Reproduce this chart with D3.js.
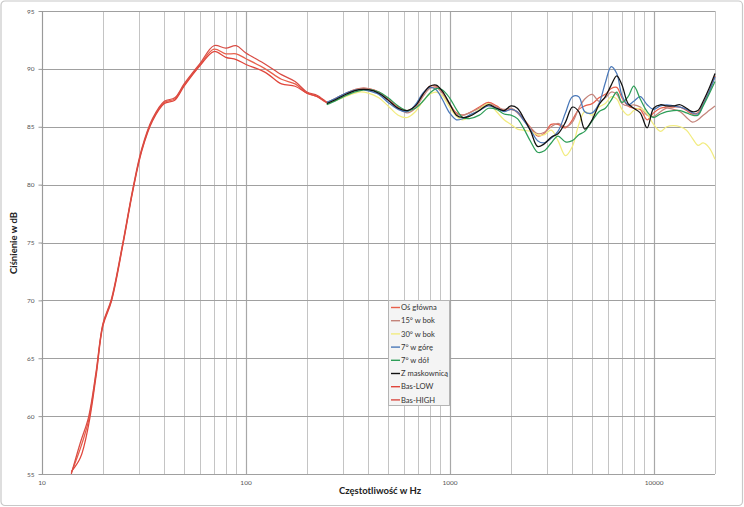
<!DOCTYPE html>
<html><head><meta charset="utf-8">
<script src="https://cdn.jsdelivr.net/npm/d3@7"></script>
<style>body{margin:0;background:#fff}svg{display:block}</style>
</head><body>
<svg id="c" width="744" height="507"></svg>
<script>
// ---- data ----
const yTicks = [55, 60, 65, 70, 75, 80, 85, 90, 95];
const xTickLabels = [10, 100, 1000, 10000];
const gridFreqs = [10,20,30,40,50,60,70,80,90,100,200,300,400,500,600,700,800,900,1000,2000,3000,4000,5000,6000,7000,8000,9000,10000,20000];

const bassFreqs = [14, 15.5, 17, 18.5, 20, 22, 25, 28, 31, 35, 40, 45, 50, 60, 70, 80, 90, 100, 125, 150, 175, 200, 225, 250];
const basHigh   = [55.0, 57.7, 59.9, 63.8, 68.0, 70.1, 74.9, 79.6, 83.1, 85.7, 87.2, 87.5, 88.7, 90.5, 92.0, 91.8, 92.0, 91.4, 90.4, 89.5, 88.9, 88.0, 87.7, 87.1];
const osBass    = [55.1, 57.2, 59.6, 63.6, 67.9, 70.0, 74.8, 79.5, 83.0, 85.6, 87.1, 87.4, 88.6, 90.4, 91.7, 91.3, 91.3, 90.9, 90.0, 89.1, 88.7, 87.9, 87.6, 87.1];
const basLow    = [55.2, 56.4, 59.2, 63.4, 67.8, 69.9, 74.7, 79.4, 82.9, 85.5, 87.0, 87.3, 88.5, 90.3, 91.5, 91.0, 90.8, 90.4, 89.7, 88.7, 88.5, 87.9, 87.6, 87.1];

const midFreqs = [250, 280, 320, 360, 400, 450, 500, 560, 620, 680, 740, 800, 860, 920, 1000, 1080, 1160, 1250, 1400, 1550, 1700, 1850, 2000, 2150, 2300, 2500, 2700, 2900, 3150, 3400, 3700, 4000, 4300, 4600, 5000, 5400, 5800, 6200, 6600, 7000, 7500, 8000, 8600, 9300, 10000, 10800, 11600, 12500, 13500, 14500, 15500, 16500, 17500, 18700, 20000];
const osMid   = [87.1,87.5,88.0,88.3,88.3,88.0,87.4,86.7,86.4,86.8,87.8,88.5,88.5,88.0,87.0,86.2,86.0,86.2,86.7,87.1,86.8,86.4,86.5,86.3,85.7,84.9,84.2,84.4,85.2,85.2,84.9,85.6,86.5,86.8,87.0,87.5,87.8,88.3,88.4,87.5,86.8,86.6,86.5,85.6,86.2,86.6,86.7,86.7,86.7,86.4,86.1,86.2,87.0,88.0,89.4];
const s15     = [87.1,87.5,88.0,88.3,88.3,88.0,87.3,86.6,86.2,86.6,87.6,88.3,88.4,87.9,86.9,86.1,86.0,86.2,86.6,87.0,86.7,86.5,86.6,86.2,85.6,84.9,84.4,84.5,85.0,85.3,85.0,85.4,86.6,87.4,87.8,87.2,87.5,88.0,87.8,87.0,86.8,86.9,86.7,86.0,85.9,86.3,86.6,86.5,86.3,85.8,85.4,85.6,86.0,86.4,86.8];
const s30     = [87.0,87.3,87.7,88.0,87.9,87.5,86.8,86.0,85.8,86.3,87.2,87.8,88.0,87.7,86.7,85.9,85.6,85.9,86.5,87.0,86.3,85.6,85.2,84.8,84.7,84.6,84.3,84.3,84.7,83.8,82.5,83.3,85.2,86.3,86.0,86.7,87.0,87.6,87.4,86.5,86.0,86.4,86.6,86.1,85.2,84.6,85.0,85.1,85.0,84.7,84.0,83.4,83.6,83.2,82.2];
const sUp     = [87.1,87.5,88.0,88.2,88.1,87.8,87.1,86.5,86.3,86.9,87.9,88.4,88.2,87.4,86.2,85.6,85.7,86.0,86.4,86.8,86.6,86.3,86.5,86.3,85.6,84.7,83.8,83.6,84.0,84.6,86.2,87.6,87.6,86.3,86.2,87.0,88.8,90.2,89.6,87.7,86.9,87.2,87.6,86.9,86.5,86.8,86.9,86.8,86.7,86.5,86.2,86.1,86.9,88.0,89.3];
const sDown   = [86.9,87.3,87.8,88.1,88.2,88.0,87.5,86.8,86.4,86.6,87.2,87.9,88.3,88.2,87.5,86.5,85.8,85.7,86.0,86.6,86.5,86.1,86.0,85.7,84.9,83.7,82.8,82.9,83.6,84.2,83.7,83.8,84.3,84.6,85.5,86.3,86.6,87.3,88.0,87.1,87.6,88.5,87.4,86.3,85.8,86.1,86.3,86.4,86.4,86.2,86.0,86.0,86.8,87.8,88.9];
const sMask   = [87.0,87.4,87.9,88.2,88.2,87.9,87.3,86.6,86.4,86.8,87.8,88.5,88.6,88.1,87.0,86.0,85.8,85.9,86.4,86.9,86.6,86.4,86.8,86.6,85.8,84.6,83.3,83.5,84.1,84.4,85.4,86.7,86.3,84.8,85.6,86.9,87.6,88.6,89.4,88.6,87.0,86.6,86.2,84.9,86.6,86.9,86.8,86.8,86.9,86.6,86.3,86.4,87.2,88.3,89.6];

const legendNames = ["Oś główna", "15° w bok", "30° w bok", "7° w górę", "7° w dół", "Z maskownicą", "Bas-LOW", "Bas-HIGH"];
const colors = ["#e8604c", "#c4847b", "#f2ec80", "#4a78b8", "#2e9e58", "#111111", "#e0463c", "#d94c44"];

// ---- chart ----
const svg = d3.select("#c");
const W = 744, H = 507;
const m = {l: 41.5, r: 744 - 715, t: 11, b: 507 - 474};
const x = d3.scaleLog().domain([10, 20000]).range([m.l, W - m.r]);
const y = d3.scaleLinear().domain([55, 95]).range([H - m.b, m.t]);

svg.append("rect").attr("x", 1).attr("y", 1).attr("width", W - 2.5).attr("height", H - 2.5)
  .attr("rx", 4).attr("fill", "#fff").attr("stroke", "#c8c8c8").attr("stroke-width", 1.2);

const g = svg.append("g");
g.selectAll("line.vg").data(gridFreqs).join("line")
  .attr("x1", d => Math.round(x(d)) + 0.5).attr("x2", d => Math.round(x(d)) + 0.5)
  .attr("y1", y(95)).attr("y2", y(55))
  .attr("stroke", d => (Math.log10(d) % 1 === 0) ? "#a8a8a8" : "#c4c4c4")
  .attr("stroke-width", d => (Math.log10(d) % 1 === 0) ? 1.2 : 1);
g.selectAll("line.hg").data(yTicks).join("line")
  .attr("x1", x(10)).attr("x2", x(20000))
  .attr("y1", d => Math.round(y(d)) + 0.5).attr("y2", d => Math.round(y(d)) + 0.5)
  .attr("stroke", "#a0a0a0").attr("stroke-width", 1);
g.append("line").attr("x1", Math.round(x(10)) + 0.5).attr("x2", Math.round(x(10)) + 0.5)
  .attr("y1", y(95)).attr("y2", y(55)).attr("stroke", "#9a9a9a");

const yAxis = d3.axisLeft(y).tickValues(yTicks).tickSize(4).tickFormat(d3.format("d"));
const ya = svg.append("g").attr("transform", `translate(${Math.round(x(10)) + 0.5},0)`).call(yAxis);
ya.select(".domain").remove();
ya.selectAll("line").attr("stroke", "#9a9a9a");
ya.selectAll("text").attr("font-family", "Lato, 'Open Sans', sans-serif").attr("font-size", 6.5).attr("fill", "#555").attr("dx", -1);

const xAxis = d3.axisBottom(x).tickValues(xTickLabels).tickSize(0).tickFormat(d3.format("d"));
const xa = svg.append("g").attr("transform", `translate(0,${y(55)})`).call(xAxis);
xa.select(".domain").remove();
xa.selectAll("text").attr("font-family", "Lato, 'Open Sans', sans-serif").attr("font-size", 6.5).attr("fill", "#555").attr("dy", "1.25em");

svg.append("text").attr("x", 380).attr("y", 494).attr("text-anchor", "middle")
  .attr("font-family", "Lato, 'Open Sans', sans-serif").attr("font-weight", "bold").attr("font-size", 9.5)
  .attr("fill", "#222").text("Częstotliwość w Hz");
svg.append("text").attr("transform", "translate(17,243) rotate(-90)").attr("text-anchor", "middle")
  .attr("font-family", "Lato, 'Open Sans', sans-serif").attr("font-weight", "bold").attr("font-size", 9.5)
  .attr("fill", "#222").text("Ciśnienie w dB");

const line = d3.line().x(d => x(d[0])).y(d => y(d[1])).curve(d3.curveCatmullRom.alpha(0.5));
const zip = (f, v) => f.map((d, i) => [d, v[i]]);
const osFull = zip(bassFreqs, osBass).concat(zip(midFreqs, osMid).slice(1));
const seriesData = [
  {i: 0, pts: osFull},
  {i: 1, pts: zip(midFreqs, s15)},
  {i: 2, pts: zip(midFreqs, s30)},
  {i: 3, pts: zip(midFreqs, sUp)},
  {i: 4, pts: zip(midFreqs, sDown)},
  {i: 6, pts: zip(bassFreqs, basLow)},
  {i: 7, pts: zip(bassFreqs, basHigh)},
  {i: 5, pts: zip(midFreqs, sMask)}
];
svg.append("clipPath").attr("id", "pc").append("rect")
  .attr("x", x(10)).attr("y", y(95) - 2).attr("width", x(20000) - x(10) + 1).attr("height", y(55) - y(95) + 2);
svg.append("g").attr("clip-path", "url(#pc)").selectAll("path").data(seriesData).join("path")
  .attr("d", d => line(d.pts)).attr("fill", "none")
  .attr("stroke", d => colors[d.i]).attr("stroke-width", 1.25);

const lg = svg.append("g").attr("transform", "translate(388,300)");
lg.append("rect").attr("x", 0.5).attr("y", 0.5).attr("width", 61).attr("height", 105)
  .attr("fill", "#f4f4f4").attr("stroke", "#b4b4b4");
legendNames.forEach((n, i) => {
  const yy = 7.5 + i * 13.2;
  lg.append("line").attr("x1", 3).attr("x2", 12).attr("y1", yy).attr("y2", yy)
    .attr("stroke", colors[i]).attr("stroke-width", 1.4);
  lg.append("text").attr("x", 13).attr("y", yy + 2.6)
    .attr("font-family", "Lato, 'Open Sans', sans-serif").attr("font-size", 7.6).attr("fill", "#333").text(n);
});
</script>
</body></html>
